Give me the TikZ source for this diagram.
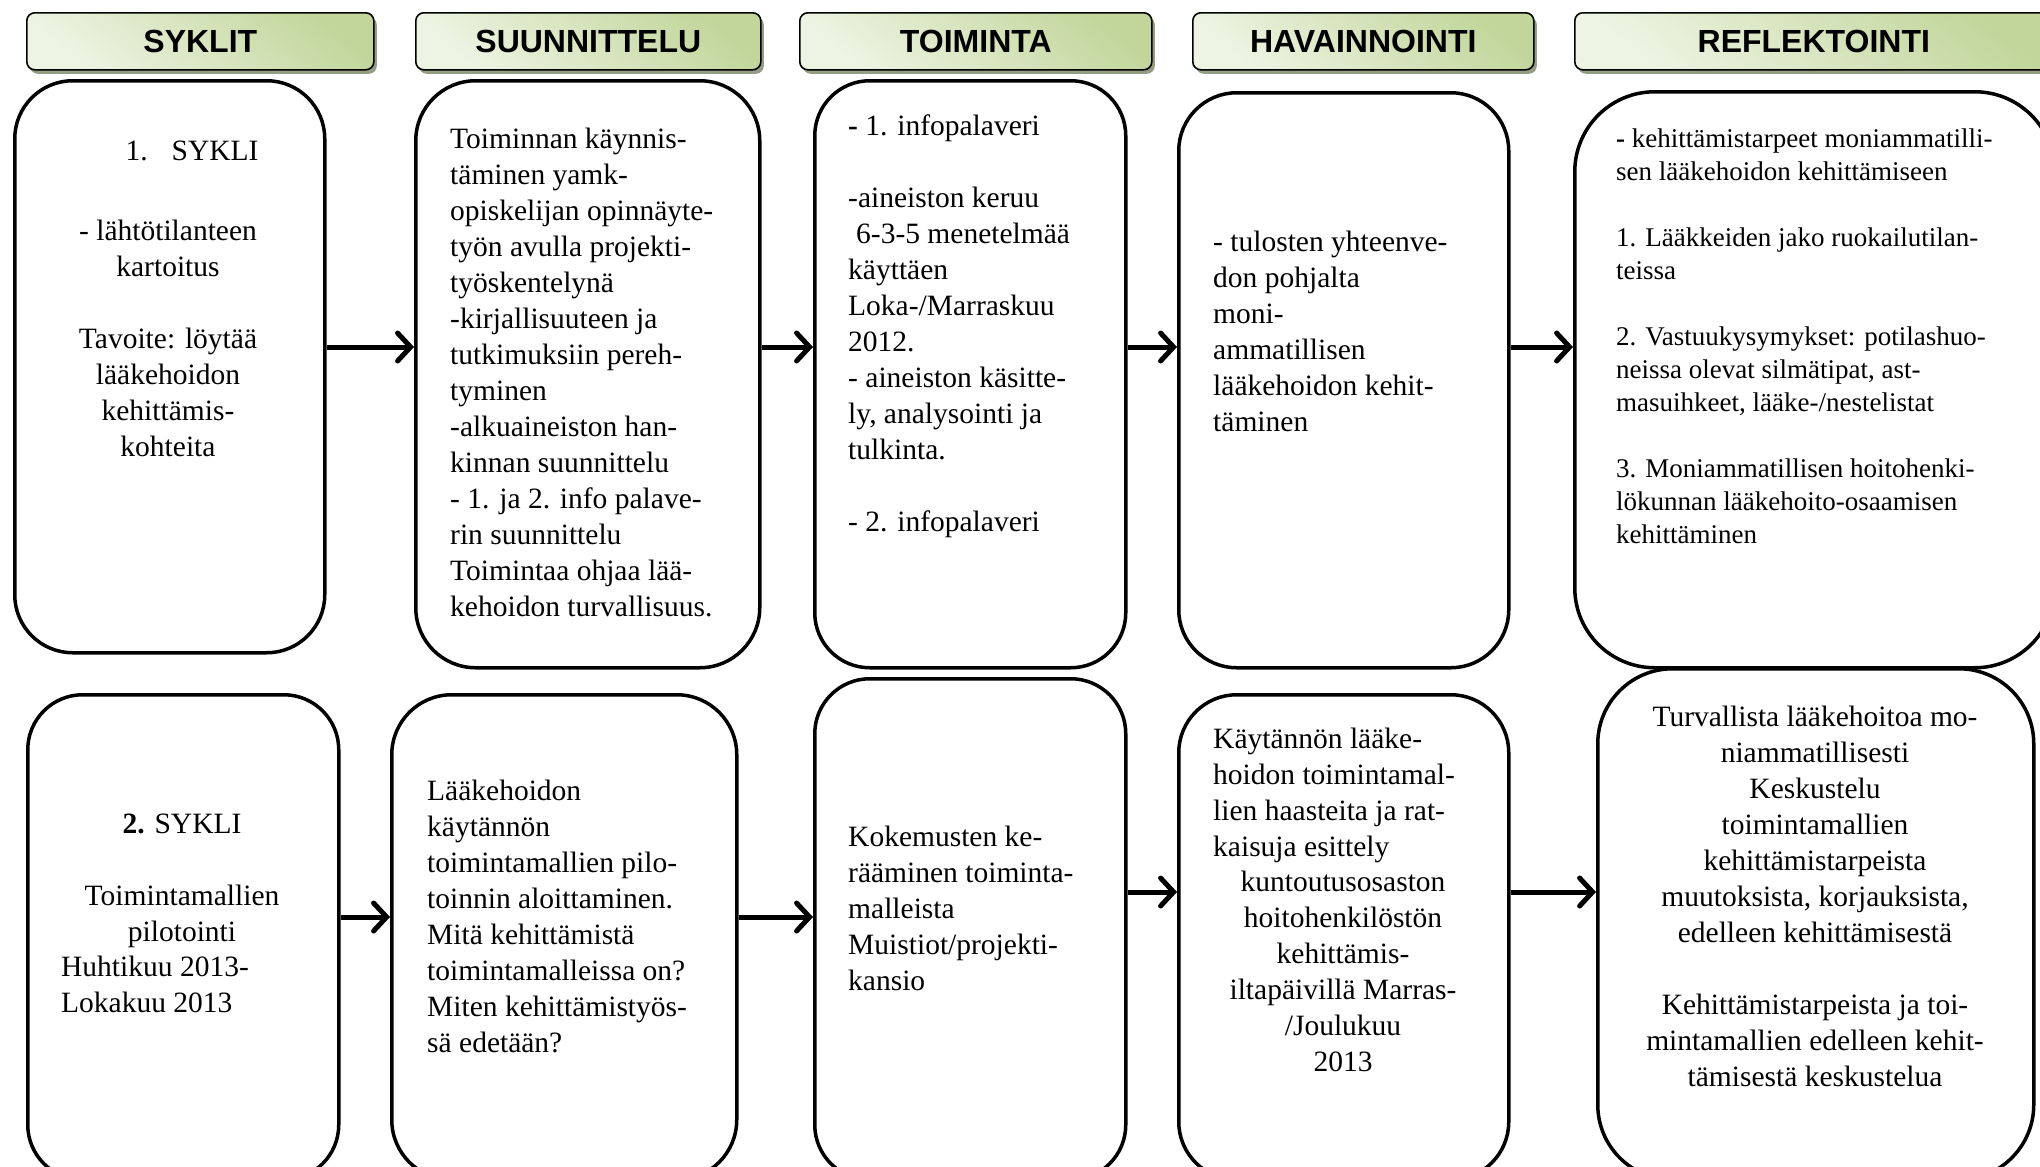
\documentclass[tikz,border=0pt]{standalone}
\usepackage{fontspec}
\setmainfont{Liberation Serif}
\newfontfamily\hdrfont{Liberation Sans}
\usetikzlibrary{arrows.meta,shadows}

\definecolor{hdrgreen}{HTML}{C2D69B}
\definecolor{hdrlight}{HTML}{EEF4E4}
\definecolor{hdrshadow}{HTML}{808C6E}

\tikzset{
  header/.style={draw=black, line width=1.6pt, rounded corners=8pt,
    top color=hdrgreen, bottom color=hdrlight, shading angle=-40,
    drop shadow={shadow xshift=3pt, shadow yshift=-4pt, fill=hdrshadow, opacity=0.85},
    minimum height=57pt, inner sep=0pt, anchor=north west,
    font=\hdrfont\bfseries\fontsize{32}{36}\selectfont},
  card/.style={draw=black, line width=3.5pt, fill=white, inner sep=0pt, anchor=north west},
  body/.style={inner sep=0pt, text width=#1, align=flush left, anchor=base west,
    font=\fontsize{29.5}{36}\selectfont},
  bodyc/.style={inner sep=0pt, text width=#1, align=flush center, anchor=base,
    font=\fontsize{29.5}{36}\selectfont},
  flow/.style={line width=5pt, -{Straight Barb[length=13pt,width=28pt,line cap=round]}},
}

\begin{document}
\begin{tikzpicture}[x=1pt, y=-1pt]
\useasboundingbox (0,0) rectangle (2040,1167);
\clip (0,0) rectangle (2040,1167);
\fill[white] (0,0) rectangle (2040,1167);

% column headers
\node[header, minimum width=347pt] (hSyklit) at (26,12) {SYKLIT};
\node[header, minimum width=345pt] (hSuunn) at (415,12) {SUUNNITTELU};
\node[header, minimum width=352pt] (hToim) at (799,12) {TOIMINTA};
\node[header, minimum width=341pt] (hHav) at (1192,12) {HAVAINNOINTI};
\node[header, minimum width=478pt] (hRefl) at (1574,12) {REFLEKTOINTI};

% first cycle
\node[card, minimum width=310pt, minimum height=572pt, rounded corners=58pt] (c1) at (13,79) {};
\node[card, minimum width=344pt, minimum height=587pt, rounded corners=60pt] (c2) at (414,79) {};
\node[card, minimum width=311pt, minimum height=587pt, rounded corners=55pt] (c3) at (813,79) {};
\node[card, minimum width=330pt, minimum height=575pt, rounded corners=58pt] (c4) at (1177,91) {};
\node[card, minimum width=480pt, minimum height=576pt, rounded corners=80pt] (c5) at (1573,90) {};

% second cycle
\node[card, minimum width=311pt, minimum height=485pt, rounded corners=55pt] (c6) at (26,693) {};
\node[card, minimum width=345pt, minimum height=485pt, rounded corners=60pt] (c7) at (390,693) {};
\node[card, minimum width=311pt, minimum height=501pt, rounded corners=55pt] (c8) at (813,677) {};
\node[card, minimum width=330pt, minimum height=485pt, rounded corners=58pt] (c9) at (1177,693) {};
\node[card, minimum width=436pt, minimum height=511pt, rounded corners=75pt] (c10) at (1596,667) {};

% texts, first cycle
\node[bodyc=300] (t1) at (168,160) {\hspace*{48pt}1.\hspace{24pt}SYKLI\\[44pt] - lähtötilanteen\\ kartoitus\\[36pt] Tavoite: löytää\\ lääkehoidon\\ kehittämis-\\ kohteita};

\node[body=320] (t2) at (450,148) {Toiminnan käynnis-\\ täminen yamk-\\ opiskelijan opinnäyte-\\ työn avulla projekti-\\ työskentelynä\\ -kirjallisuuteen ja\\ tutkimuksiin pereh-\\ tyminen\\ -alkuaineiston han-\\ kinnan suunnittelu\\ - 1. ja 2. info palave-\\ rin suunnittelu\\ Toimintaa ohjaa lää-\\ kehoidon turvallisuus.};

\node[body=270] (t3) at (848,135) {\textbf{-} 1. infopalaveri\\[36pt] -aineiston keruu\\ \hspace*{8pt}6-3-5 menetelmää\\ käyttäen\\ Loka-/Marraskuu\\ 2012.\\ - aineiston käsitte-\\ ly, analysointi ja\\ tulkinta.\\[36pt] - 2. infopalaveri};

\node[body=280] (t4) at (1213,251) {- tulosten yhteenve-\\ don pohjalta\\ moni-\\ ammatillisen\\ lääkehoidon kehit-\\ täminen};

\node[body=420, font=\fontsize{27}{33}\selectfont] (t5) at (1616,147) {\textbf{-} kehittämistarpeet moniammatilli-\\ sen lääkehoidon kehittämiseen\\[33pt] 1. Lääkkeiden jako ruokailutilan-\\ teissa\\[33pt] 2. Vastuukysymykset: potilashuo-\\ neissa olevat silmätipat, ast-\\ masuihkeet, lääke-/nestelistat\\[33pt] 3. Moniammatillisen hoitohenki-\\ lökunnan lääkehoito-osaamisen\\ kehittäminen};

% texts, second cycle
\node[bodyc=290] (t6a) at (182,833) {\textbf{2.} SYKLI\\[36pt] Toimintamallien\\ pilotointi};
\node[body=270] (t6b) at (61,976) {Huhtikuu 2013-\\ Lokakuu 2013};

\node[body=300] (t7) at (427,800) {Lääkehoidon\\ käytännön\\ toimintamallien pilo-\\ toinnin aloittaminen.\\ Mitä kehittämistä\\ toimintamalleissa on?\\ Miten kehittämistyös-\\ sä edetään?};

\node[body=270] (t8) at (848,846) {Kokemusten ke-\\ rääminen toiminta-\\ malleista\\ Muistiot/projekti-\\ kansio};

\node[body=290] (t9a) at (1213,748) {Käytännön lääke-\\ hoidon toimintamal-\\ lien haasteita ja rat-\\ kaisuja esittely};
\node[bodyc=300] (t9b) at (1343,891) {kuntoutusosaston\\ hoitohenkilöstön\\ kehittämis-\\ iltapäivillä Marras-\\ /Joulukuu\\ 2013};

\node[bodyc=420] (t10) at (1815,726) {Turvallista lääkehoitoa mo-\\ niammatillisesti\\ Keskustelu\\ toimintamallien\\ kehittämistarpeista\\ muutoksista, korjauksista,\\ edelleen kehittämisestä\\[36pt] Kehittämistarpeista ja toi-\\ mintamallien edelleen kehit-\\ tämisestä keskustelua};

% connectors
\coordinate (rowA) at (0,347);
\coordinate (rowB) at (0,917);
\coordinate (rowC) at (0,892);
\draw[flow] (c1.east |- rowA) -- (c2.west |- rowA);
\draw[flow] (c2.east |- rowA) -- (c3.west |- rowA);
\draw[flow] (c3.east |- rowA) -- (c4.west |- rowA);
\draw[flow] (c4.east |- rowA) -- (c5.west |- rowA);
\draw[flow] (c6.east |- rowB) -- (c7.west |- rowB);
\draw[flow] (c7.east |- rowB) -- (c8.west |- rowB);
\draw[flow] (c8.east |- rowC) -- (c9.west |- rowC);
\draw[flow] (c9.east |- rowC) -- (c10.west |- rowC);
\end{tikzpicture}
\end{document}
